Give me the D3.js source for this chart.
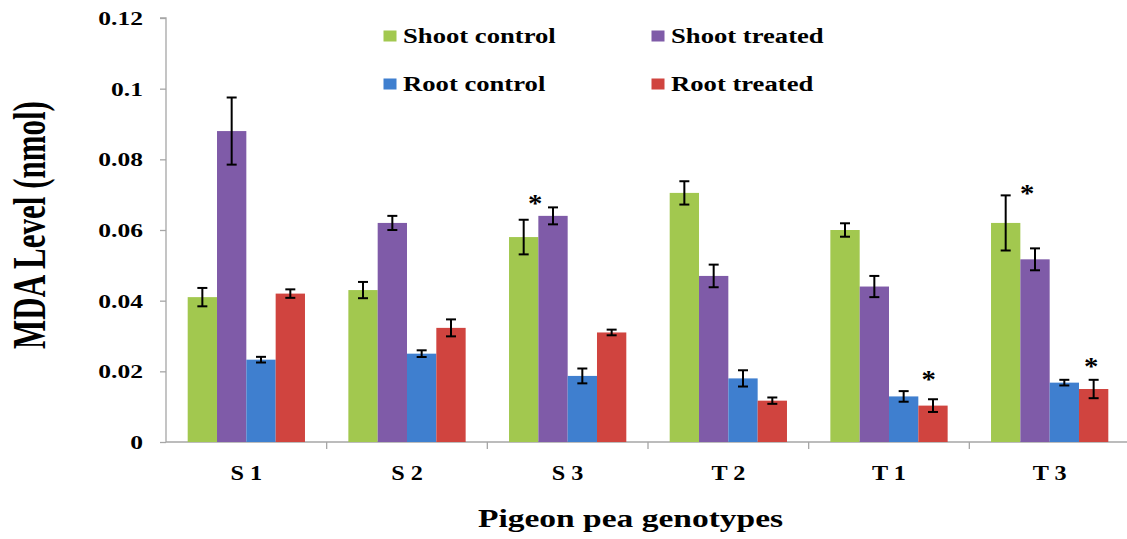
<!DOCTYPE html>
<html>
<head>
<meta charset="utf-8">
<script src="https://cdn.jsdelivr.net/npm/d3@7"></script>
<style>
  html, body { margin: 0; padding: 0; background: #fff; }
  svg { display: block; }
  text { font-family: "Liberation Serif", "Times New Roman", serif; font-weight: bold; fill: #000; }
</style>
</head>
<body>
<svg id="chart" width="1127" height="539"></svg>
<script>
// ---------- data ----------
const categories = ["S 1", "S 2", "S 3", "T 2", "T 1", "T 3"];
const seriesNames = ["Shoot control", "Shoot treated", "Root control", "Root treated"];
const seriesColors = ["#a2c84f", "#7f5ba8", "#3f7fcf", "#d0443f"];
const shootControl = [0.041, 0.043, 0.058, 0.0705, 0.060, 0.062];
const shootTreated = [0.088, 0.062, 0.064, 0.047, 0.044, 0.0517];
const rootControl  = [0.0233, 0.025, 0.0187, 0.018, 0.0129, 0.0168];
const rootTreated  = [0.042, 0.0323, 0.031, 0.0117, 0.0103, 0.015];
const shootControlErr = [0.0026, 0.0023, 0.0049, 0.0033, 0.0019, 0.0078];
const shootTreatedErr = [0.0095, 0.0020, 0.0024, 0.0032, 0.0030, 0.0031];
const rootControlErr  = [0.0008, 0.00095, 0.0021, 0.0023, 0.0015, 0.0008];
const rootTreatedErr  = [0.0012, 0.0024, 0.0008, 0.0009, 0.0018, 0.0026];
const yTicks = [0, 0.02, 0.04, 0.06, 0.08, 0.1, 0.12];
const yTickLabels = ["0", "0.02", "0.04", "0.06", "0.08", "0.1", "0.12"];
// significance marks: category, slot position within group (bar units), value at mark centre
const sigCategory = ["S 3", "T 1", "T 3", "T 3"];
const sigSlot = [0.89, 3.35, 1.23, 3.42];
const sigValue = [0.0685, 0.0186, 0.0713, 0.0225];
const yTitle = "MDA Level (nmol)";
const xTitle = "Pigeon pea genotypes";

const values = [shootControl, shootTreated, rootControl, rootTreated];
const errors = [shootControlErr, shootTreatedErr, rootControlErr, rootTreatedErr];

// ---------- layout ----------
const svg = d3.select("#chart");
const plotLeft = 166, plotRight = 1130, plotTop = 18, plotBottom = 442;
const groupFrac = 0.73;

const x = d3.scaleBand().domain(categories).range([plotLeft, plotRight]).paddingInner(0).paddingOuter(0);
const y = d3.scaleLinear().domain([0, 0.12]).range([plotBottom, plotTop]);
const groupW = x.bandwidth() * groupFrac;
const barW = groupW / seriesNames.length;
const groupStart = c => x(c) + (x.bandwidth() - groupW) / 2;

// ---------- axes ----------
const axisColor = "#a6a6a6";
const yAxis = svg.append("g").attr("transform", `translate(${plotLeft},0)`)
  .call(d3.axisLeft(y).tickValues(yTicks).tickSize(6).tickFormat(""));
yAxis.select(".domain").attr("stroke", axisColor).attr("stroke-width", 1.3).attr("d", `M-6,${plotTop}H0V${plotBottom}`);
yAxis.selectAll(".tick line").attr("stroke", axisColor).attr("stroke-width", 1.3);

svg.append("g").selectAll("text").data(yTicks).join("text")
  .attr("transform", (d) => `translate(143,${y(d) + 7}) scale(1.42,1)`)
  .attr("text-anchor", "end").attr("font-size", 18)
  .text((d, i) => yTickLabels[i]);

const xAxis = svg.append("g").attr("transform", `translate(0,${plotBottom})`)
  .call(d3.axisBottom(x).tickSize(0).tickFormat(""));
xAxis.select(".domain").attr("stroke", axisColor).attr("stroke-width", 1.3).attr("d", `M${plotLeft},0H${plotRight}`);
xAxis.selectAll(".tick").remove();
const boundaries = categories.map(c => x(c) + x.bandwidth());
svg.append("g").selectAll("line").data(boundaries).join("line")
  .attr("x1", d => d).attr("x2", d => d)
  .attr("y1", plotBottom).attr("y2", plotBottom + 7)
  .attr("stroke", axisColor).attr("stroke-width", 1.3);

svg.append("g").selectAll("text").data(categories).join("text")
  .attr("transform", d => `translate(${x(d) + x.bandwidth() / 2},480) scale(1.1,1)`)
  .attr("text-anchor", "middle").attr("font-size", 22)
  .text(d => d);

// ---------- bars ----------
const barData = [];
categories.forEach((c, ci) => {
  seriesNames.forEach((s, si) => {
    barData.push({ c, si, v: values[si][ci], e: errors[si][ci] });
  });
});
svg.append("g").selectAll("rect").data(barData).join("rect")
  .attr("x", d => groupStart(d.c) + d.si * barW)
  .attr("width", barW)
  .attr("y", d => y(d.v))
  .attr("height", d => y(0) - y(d.v))
  .attr("fill", d => seriesColors[d.si]);

// error bars
const eb = svg.append("g").attr("stroke", "#000").attr("stroke-width", 2);
barData.forEach(d => {
  const cx = groupStart(d.c) + (d.si + 0.5) * barW;
  const y1 = y(d.v + d.e), y2 = y(d.v - d.e);
  eb.append("line").attr("x1", cx).attr("x2", cx).attr("y1", y1).attr("y2", y2);
  eb.append("line").attr("x1", cx - 5).attr("x2", cx + 5).attr("y1", y1).attr("y2", y1);
  eb.append("line").attr("x1", cx - 5).attr("x2", cx + 5).attr("y1", y2).attr("y2", y2);
});

// significance asterisks
svg.append("g").selectAll("text").data(sigCategory).join("text")
  .attr("transform", (c, i) => `translate(${groupStart(c) + sigSlot[i] * barW},${y(sigValue[i]) + 12}) scale(1.15,1)`)
  .attr("text-anchor", "middle").attr("font-size", 25).attr("font-weight", "normal")
  .text("*");

// ---------- legend ----------
const legX = [383.5, 651.5], legY = [36, 84];
const leg = svg.append("g").selectAll("g").data(seriesNames).join("g")
  .attr("transform", (d, i) => `translate(${legX[i % 2]},${legY[Math.floor(i / 2)]})`);
leg.append("rect").attr("x", 0).attr("y", -5.5).attr("width", 13).attr("height", 11)
  .attr("fill", (d, i) => seriesColors[i]);
leg.append("text").attr("transform", "translate(19.5,7.3) scale(1.3,1)")
  .attr("font-size", 20.5).text(d => d);

// ---------- titles ----------
svg.append("text")
  .attr("transform", `translate(630.5,527.3) scale(1.34,1)`)
  .attr("text-anchor", "middle").attr("font-size", 25).text(xTitle);
svg.append("text")
  .attr("transform", `translate(45,225) scale(1.5,1) rotate(-90)`)
  .attr("text-anchor", "middle").attr("font-size", 31).text(yTitle);
</script>
</body>
</html>
